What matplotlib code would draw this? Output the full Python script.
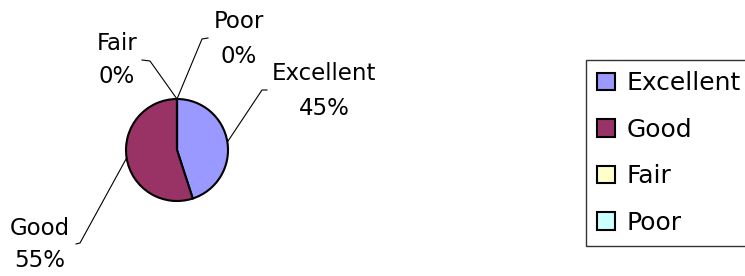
import matplotlib
matplotlib.use("Agg")
import matplotlib.pyplot as plt
import numpy as np

# ---- data ----
categories = ["Excellent", "Good", "Fair", "Poor"]
values = [45, 55, 0, 0]
colors = ["#9999FF", "#993366", "#FFFFCC", "#CCFFFF"]

# ---- layout (pixel coordinates, y measured from bottom) ----
W, H = 745, 276
plt.rcParams['font.family'] = ['DejaVu Sans']
fig = plt.figure(figsize=(W / 100, H / 100), dpi=100)
ax = fig.add_axes([0, 0, 1, 1])

center = (177, H - 150)
radius = 51
wedges, _ = ax.pie(values, colors=colors, startangle=90, counterclock=False,
                   center=center, radius=radius, normalize=True,
                   wedgeprops=dict(edgecolor="black", linewidth=1.5))
ax.set_xlim(0, W)
ax.set_ylim(0, H)
ax.set_aspect("equal")
ax.axis("off")

# label positions: (x center, baseline of first line, baseline of second line)
label_pos = {
    "Excellent": (324, H - 80, H - 115),
    "Good": (40, H - 235, H - 267),
    "Fair": (117, H - 50, H - 83),
    "Poor": (239, H - 28, H - 63),
}
elbows = {
    "Excellent": [(262, H - 90), (267, H - 90)],
    "Good": [(80, H - 243), (76, H - 244)],
    "Fair": [(150, H - 61), (142, H - 60)],
    "Poor": [(202, H - 39), (208, H - 38)],
}

total = sum(values)
for w, cat, v in zip(wedges, categories, values):
    mid = np.deg2rad((w.theta1 + w.theta2) / 2)
    ax_pt = (center[0] + radius * np.cos(mid), center[1] + radius * np.sin(mid))
    pts = [ax_pt] + elbows[cat]
    xs, ys = zip(*pts)
    ax.plot(xs, ys, color="black", lw=0.8)
    pct = round(100 * v / total)
    x, y1, y2 = label_pos[cat]
    ax.text(x, y1, cat, ha="center", va="baseline", fontsize=16.5)
    ax.text(x, y2, f"{pct}%", ha="center", va="baseline", fontsize=16.5)

leg = fig.legend(wedges, categories, loc="upper left",
                 bbox_to_anchor=(586 / W, 1 - 60 / H), fontsize=18,
                 frameon=True, fancybox=False, shadow=False,
                 handlelength=0.72, handleheight=0.72, handletextpad=0.45,
                 labelspacing=0.9, borderpad=0.45, borderaxespad=0)
leg.get_frame().set_edgecolor("black")
leg.get_frame().set_linewidth(1.0)

fig.savefig("out.png", dpi=100)
